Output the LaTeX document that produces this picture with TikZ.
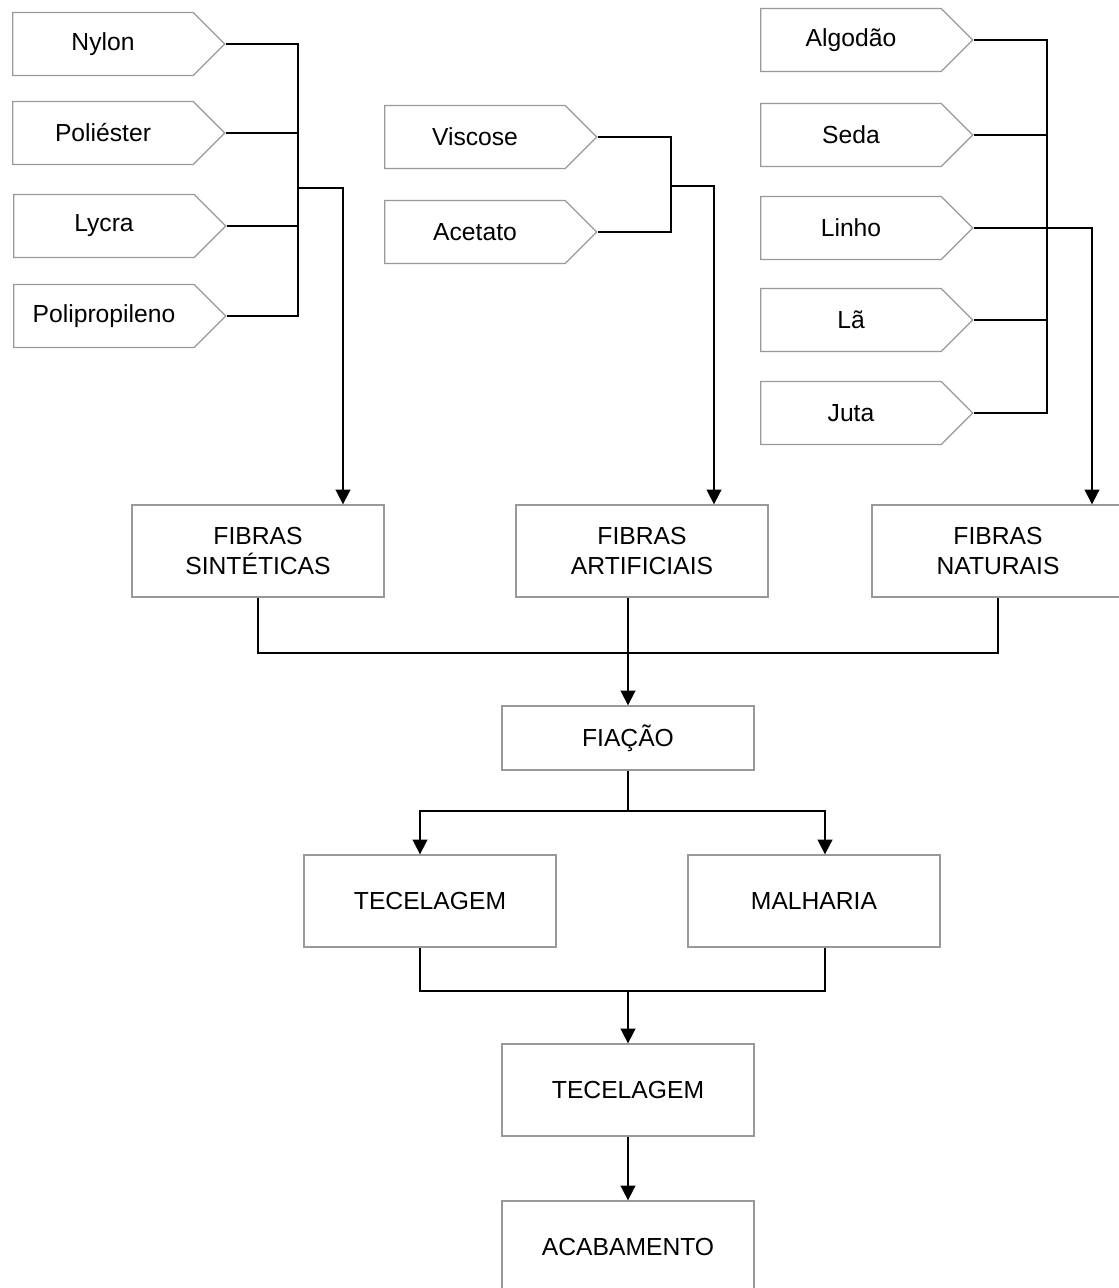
\documentclass[tikz,border=0pt]{standalone}
\usepackage{fontspec}
\setmainfont{Liberation Sans}
\usetikzlibrary{shapes.symbols, arrows.meta}
\usetikzlibrary{positioning}

\tikzset{
	fibra/.style={signal, signal to=east, draw=black!40, line width=1pt, fill=white,
		minimum width=159pt, minimum height=47.25pt, inner sep=0pt,
		font=\fontsize{18.5}{23}\selectfont},
	etapa/.style={rectangle, draw=black!40, line width=1pt, fill=white,
		minimum width=189pt, minimum height=69pt, inner sep=0pt, align=center,
		font=\fontsize{18.5}{23}\selectfont},
	liga/.style={line width=1.3pt},
	seta/.style={liga, -{Triangle[length=11pt, width=11pt]}}
}

\begin{document}
\begin{tikzpicture}[x=0.75pt, y=-0.75pt]
		\useasboundingbox (0,0) rectangle (1118,1288);

		% Sinteticas
		\node[fibra] (nylon) at (103,44) {Nylon};
		\node[fibra] (poliester) at (103,133) {Poliéster};
		\node[fibra] (lycra) at (104,226) {Lycra};
		\node[fibra] (polip) at (104,316) {Polipropileno};

		% Artificiais
		\node[fibra] (viscose) at (475,137) {Viscose};
		\node[fibra] (acetato) at (475,232) {Acetato};

		% Naturais
		\node[fibra] (algodao) at (851,40) {Algodão};
		\node[fibra] (seda) at (851,135) {Seda};
		\node[fibra] (linho) at (851,228) {Linho};
		\node[fibra] (la) at (851,320) {Lã};
		\node[fibra] (juta) at (851,413) {Juta};

		% Tipos de fibra
		\node[etapa] (sint) at (258,551) {FIBRAS\\SINTÉTICAS};
		\node[etapa] (art) at (642,551) {FIBRAS\\ARTIFICIAIS};
		\node[etapa] (nat) at (998,551) {FIBRAS\\NATURAIS};

		% Processo
		\node[etapa, minimum height=48pt] (fia) at (628,738) {FIAÇÃO};
		\node[etapa] (tec) at (430,901) {TECELAGEM};
		\node[etapa] (mal) at (814,901) {MALHARIA};
		\node[etapa] (tec2) at (628,1090) {TECELAGEM};
		\node[etapa] (aca) at (628,1247) {ACABAMENTO};

		% Pontos de juncao
		\coordinate (busSin) at (298,188);
		\coordinate (desSin) at (343,188);
		\coordinate (busArt) at (671,186);
		\coordinate (desArt) at (714,186);
		\coordinate (busNat) at (1047,0);
		\coordinate (desNat) at (1092,228);
		\coordinate (barra) at (0,653);
		\coordinate (ramoTec) at (420,811);
		\coordinate (ramoMal) at (825,811);
		\coordinate (uneTec) at (420,991);
		\coordinate (uneMal) at (825,991);

		% Ligacoes das fibras
		\draw[liga] (nylon.east) -- (nylon.east -| busSin) -- (polip.east -| busSin) -- (polip.east);
		\draw[liga] (poliester.east) -- (poliester.east -| busSin);
		\draw[liga] (lycra.east) -- (lycra.east -| busSin);
		\draw[seta] (busSin) -- (desSin) -- (desSin |- sint.north);

		\draw[liga] (viscose.east) -- (viscose.east -| busArt) -- (acetato.east -| busArt) -- (acetato.east);
		\draw[seta] (busArt) -- (desArt) -- (desArt |- art.north);

		\draw[liga] (algodao.east) -- (algodao.east -| busNat) -- (juta.east -| busNat) -- (juta.east);
		\draw[liga] (seda.east) -- (seda.east -| busNat);
		\draw[liga] (la.east) -- (la.east -| busNat);
		\draw[seta] (linho.east) -- (desNat) -- (desNat |- nat.north);

		% Ligacoes do processo
		\draw[liga] (sint.south) -- (sint.south |- barra) -- (nat.south |- barra) -- (nat.south);
		\draw[seta] (art.south -| fia) -- (fia.north);
		\draw[seta] (fia.south) |- (ramoTec) -- (ramoTec |- tec.north);
		\draw[seta] (fia.south) |- (ramoMal) -- (ramoMal |- mal.north);
		\draw[liga] (tec.south -| uneTec) -- (uneTec) -- (uneMal) -- (mal.south -| uneMal);
		\draw[seta] (uneTec -| tec2) -- (tec2.north);
		\draw[seta] (tec2) -- (aca);

\end{tikzpicture}
\end{document}
